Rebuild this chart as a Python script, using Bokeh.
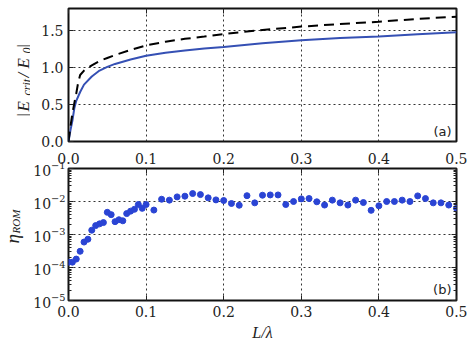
import math
from bokeh.plotting import figure
from bokeh.layouts import column, row
from bokeh.models import (Label, LinearAxis, LogAxis, FixedTicker, PrintfTickFormatter,
                          CustomJSTickFormatter, Range1d)
from bokeh.embed import file_html
from bokeh.resources import INLINE

# ---------------- data ----------------
x_solid = [0, 0.0025, 0.005, 0.0075, 0.01, 0.015, 0.02, 0.03, 0.04, 0.05, 0.06, 0.08,
           0.1, 0.125, 0.15, 0.175, 0.2, 0.25, 0.3, 0.35, 0.4, 0.45, 0.5]
e_solid = [0, 0.15, 0.28, 0.45, 0.55, 0.67, 0.77, 0.88, 0.96, 1.01, 1.05, 1.11,
           1.16, 1.20, 1.23, 1.26, 1.28, 1.33, 1.37, 1.40, 1.42, 1.45, 1.48]

x_dash = [0, 0.0025, 0.005, 0.0075, 0.01, 0.0125, 0.015, 0.02, 0.03, 0.04, 0.05, 0.06,
          0.08, 0.1, 0.125, 0.15, 0.175, 0.2, 0.25, 0.3, 0.35, 0.4, 0.45, 0.5]
e_dash = [0, 0.2, 0.38, 0.52, 0.65, 0.80, 0.90, 0.96, 1.03, 1.09, 1.13, 1.17,
          1.24, 1.30, 1.35, 1.39, 1.42, 1.455, 1.51, 1.555, 1.59, 1.62, 1.66, 1.69]

x_eta = [0.0, 0.005, 0.01, 0.015, 0.02, 0.025, 0.03, 0.035, 0.04, 0.045, 0.05, 0.055,
         0.06, 0.065, 0.07, 0.075, 0.08, 0.085, 0.09, 0.095, 0.1,
         0.11, 0.12, 0.13, 0.14, 0.15, 0.16, 0.17, 0.18, 0.19, 0.20,
         0.21, 0.22, 0.23, 0.24, 0.25, 0.26, 0.27, 0.28, 0.29, 0.30,
         0.31, 0.32, 0.33, 0.34, 0.35, 0.36, 0.37, 0.38, 0.39, 0.40,
         0.41, 0.42, 0.43, 0.44, 0.45, 0.46, 0.47, 0.48, 0.49, 0.50]
eta = [1.45e-4, 1.45e-4, 1.8e-4, 3.1e-4, 5.9e-4, 7.2e-4, 1.35e-3, 1.86e-3, 2.1e-3, 2.3e-3,
       4.7e-3, 4.0e-3, 2.45e-3, 2.8e-3, 2.6e-3, 4.3e-3, 5.1e-3, 5.8e-3, 8.1e-3, 6.2e-3, 8.1e-3,
       5.5e-3, 1.17e-2, 1.1e-2, 1.38e-2, 1.45e-2, 1.74e-2, 1.62e-2, 1.29e-2, 1.12e-2, 1.07e-2,
       8.7e-3, 7.7e-3, 1.5e-2, 9.1e-3, 1.55e-2, 1.58e-2, 1.58e-2, 8.1e-3, 1.0e-2, 1.2e-2,
       1.23e-2, 9.8e-3, 7.8e-3, 1.1e-2, 9.1e-3, 7.8e-3, 1.1e-2, 9.3e-3, 5.4e-3, 7.4e-3,
       1.0e-2, 1.0e-2, 1.1e-2, 1.0e-2, 1.48e-2, 1.23e-2, 9.1e-3, 9.1e-3, 7.8e-3, 6.2e-3]

x_ticks = [0.0, 0.1, 0.2, 0.3, 0.4, 0.5]
e_ticks = [0.0, 0.5, 1.0, 1.5]
eta_ticks = [1e-5, 1e-4, 1e-3, 1e-2, 1e-1]
eta_minor = [m * 10.0 ** e for e in range(-5, -1) for m in range(2, 10)]

# ---------------- styles / layout ----------------
TICK_FONT = "DejaVu Serif"
TICK_SIZE = "14px"
TICK_COLOR = "#222222"
MATH_FONT = "Liberation Serif"
BLUE_LINE = "#3550b4"
BLUE_DOT = "#2a44d4"
GRID_DASH = "2 3"
EMPTY = CustomJSTickFormatter(code="return ''")

W_TOTAL, H_TOTAL = 467, 347
LW = 30                   # width of the strip holding the rotated y labels
W = W_TOTAL - LW
FL, FR = 66, 456          # frame left / right in page px
T_TOP, T_BOT = 8, 141     # top panel frame
B_TOP, B_BOT = 168, 300   # bottom panel frame
H1 = 147
H2 = H_TOTAL - H1


def style_axis(ax, show_labels=True):
    ax.axis_line_color = None
    ax.major_tick_in = 5
    ax.major_tick_out = 0
    ax.minor_tick_in = 3
    ax.minor_tick_out = 0
    ax.major_tick_line_color = "#222222"
    ax.minor_tick_line_color = "#222222"
    ax.major_label_text_font = TICK_FONT
    ax.major_label_text_font_size = TICK_SIZE
    ax.major_label_text_color = TICK_COLOR
    if not show_labels:
        ax.major_label_text_font_size = "0px"
        ax.major_label_standoff = 0


def style_fig(p):
    p.outline_line_color = "#111111"
    p.outline_line_width = 2
    p.background_fill_color = "white"
    p.border_fill_color = "white"
    for g in (p.xgrid[0], p.ygrid[0]):
        g.grid_line_color = "#333333"
        g.grid_line_dash = GRID_DASH
        g.grid_line_width = 1


# ---------------- top panel ----------------
p1 = figure(width=W, height=H1, x_range=Range1d(0, 0.5), y_range=Range1d(0, 1.8),
            output_backend="svg", toolbar_location=None,
            min_border_left=FL - LW, min_border_right=W_TOTAL - FR, min_border_top=T_TOP,
            min_border_bottom=H1 - T_BOT)
p1.xaxis.ticker = FixedTicker(ticks=x_ticks)
p1.xaxis.visible = False
p1.yaxis.ticker = FixedTicker(ticks=e_ticks)
p1.yaxis.formatter = PrintfTickFormatter(format="%.1f")
style_axis(p1.yaxis[0])
p1.yaxis.major_label_standoff = 5
p1.yaxis.minor_tick_line_color = None
style_fig(p1)

ax_r1 = LinearAxis(ticker=FixedTicker(ticks=e_ticks), formatter=EMPTY)
style_axis(ax_r1, show_labels=False)
ax_r1.minor_tick_line_color = None
p1.add_layout(ax_r1, "right")
ax_t1 = LinearAxis(ticker=FixedTicker(ticks=x_ticks), formatter=EMPTY)
style_axis(ax_t1, show_labels=False)
ax_t1.minor_tick_line_color = None
p1.add_layout(ax_t1, "above")

p1.line(x_solid, e_solid, line_color=BLUE_LINE, line_width=2)
p1.line(x_dash, e_dash, line_color="black", line_width=2, line_dash="10 6")

p1.add_layout(Label(x=0.5, y=0, x_offset=-5, y_offset=3, text="(a)", text_align="right",
                    text_baseline="bottom", text_font="DejaVu Sans", text_font_size="13px",
                    text_color="#222222"))

# ---------------- bottom panel ----------------
p2 = figure(width=W, height=H2, x_range=Range1d(0, 0.5), y_range=Range1d(1e-5, 1e-1),
            y_axis_type="log", output_backend="svg", toolbar_location=None,
            min_border_left=FL - LW, min_border_right=W_TOTAL - FR, min_border_top=B_TOP - H1,
            min_border_bottom=H_TOTAL - B_BOT)
p2.xaxis.ticker = FixedTicker(ticks=x_ticks)
p2.xaxis.formatter = PrintfTickFormatter(format="%.1f")
style_axis(p2.xaxis[0])
p2.xaxis.minor_tick_line_color = None
p2.xaxis.major_label_standoff = 5
p2.xaxis.axis_label = "L/λ"
p2.xaxis.axis_label_text_font = MATH_FONT
p2.xaxis.axis_label_text_font_style = "italic"
p2.xaxis.axis_label_text_font_size = "16px"
p2.xaxis.axis_label_text_color = "#222222"
p2.xaxis.axis_label_standoff = 4

p2.yaxis.ticker = FixedTicker(ticks=eta_ticks, minor_ticks=eta_minor)
style_axis(p2.yaxis[0])
p2.yaxis.major_label_standoff = 3
style_fig(p2)

# tick labels of the upper panel's x axis (drawn just above the lower frame)
ax_t2 = LinearAxis(ticker=FixedTicker(ticks=x_ticks), formatter=PrintfTickFormatter(format="%.1f"))
style_axis(ax_t2)
ax_t2.minor_tick_line_color = None
ax_t2.major_label_standoff = 5
p2.add_layout(ax_t2, "above")

ax_r2 = LogAxis(ticker=FixedTicker(ticks=eta_ticks, minor_ticks=eta_minor), formatter=EMPTY)
style_axis(ax_r2, show_labels=False)
p2.add_layout(ax_r2, "right")

p2.scatter(x_eta, eta, size=6, fill_color=BLUE_DOT, line_color=BLUE_DOT)

p2.add_layout(Label(x=0.5, y=1e-5, x_offset=-5, y_offset=4, text="(b)", text_align="right",
                    text_baseline="bottom", text_font="DejaVu Sans", text_font_size="13px",
                    text_color="#222222"))

# ---------------- strip with rotated y-axis labels ----------------
lf = figure(width=LW, height=H_TOTAL, x_range=Range1d(0, LW), y_range=Range1d(0, H_TOTAL),
            output_backend="svg", toolbar_location=None, x_axis_location=None,
            y_axis_location=None, min_border=0)
lf.xgrid.visible = False
lf.ygrid.visible = False
lf.outline_line_color = None

# (text, page y where the piece starts, font px, baseline page x)
label_pieces = [("|", 117, 17, 23), ("E", 111, 17, 23), ("crit", 95, 12, 26),
                ("/", 77, 17, 23), ("E", 68, 17, 23), ("0", 53, 12, 26), ("|", 48, 17, 23),
                ("η", 243, 19, 12), ("ROM", 233, 11, 15)]
for txt, py, fs, bx in label_pieces:
    lf.add_layout(Label(x=bx, y=H_TOTAL - py, text=txt, angle=math.pi / 2, text_align="left",
                        text_baseline="alphabetic", text_font=MATH_FONT,
                        text_font_style="italic", text_font_size=f"{fs}px",
                        text_color="#222222"))

layout = row(lf, column(p1, p2, spacing=0), spacing=0)
open("out.html", "w").write(file_html(layout, INLINE))
